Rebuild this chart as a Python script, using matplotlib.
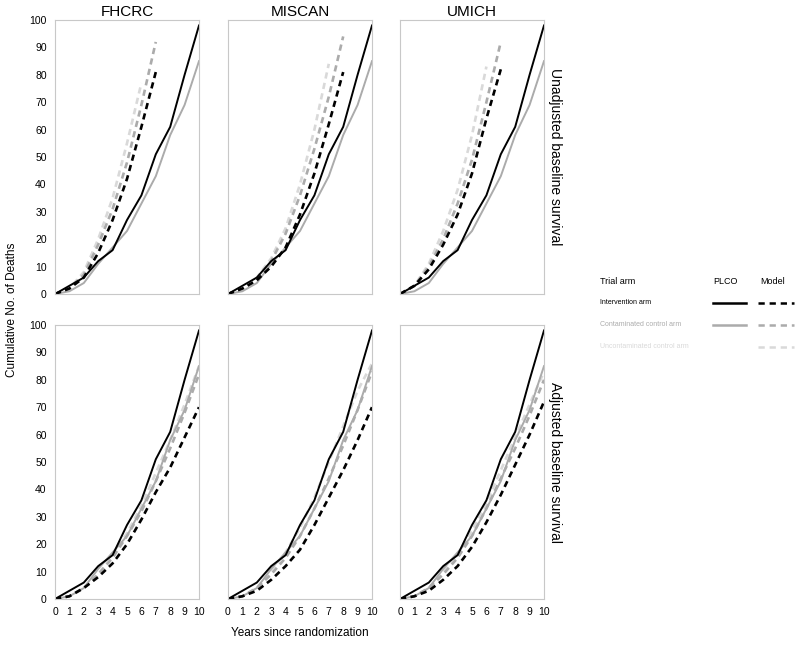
import matplotlib
matplotlib.use("Agg")
import matplotlib.pyplot as plt

plt.rcParams["font.family"] = ["Liberation Sans", "DejaVu Sans"]
plt.rcParams["lines.scale_dashes"] = False

models = ["FHCRC", "MISCAN", "UMICH"]
rows = ["Unadjusted baseline survival", "Adjusted baseline survival"]
years = list(range(11))

# observed PLCO counts (same in every panel)
plco_intervention = [0, 3, 6, 12, 16, 27, 36, 51, 61, 80, 98]
plco_contaminated = [0, 1, 4, 11, 17, 23, 33, 43, 58, 69, 85]

# model projections, unadjusted baseline survival
unadj_intervention = {
    "FHCRC": [0, 2, 6, 15, 27, 42, 61, 81],
    "MISCAN": [0, 2, 5, 10, 17, 29, 44, 62, 81],
    "UMICH": [0, 3, 9, 18, 29, 44, 64, 82],
}
unadj_contaminated = {
    "FHCRC": [0, 2, 7, 18, 31, 48, 69, 92],
    "MISCAN": [0, 2, 5, 12, 22, 36, 53, 72, 94],
    "UMICH": [0, 3, 10, 20, 33, 49, 70, 92],
}
unadj_uncontaminated = {
    "FHCRC": [0, 2, 8, 20, 35, 55, 77],
    "MISCAN": [0, 2, 6, 13, 24, 40, 60, 84],
    "UMICH": [0, 3, 11, 23, 38, 58, 83],
}

# model projections, adjusted baseline survival
adj_intervention = {
    "FHCRC": [0, 1, 4, 8, 13, 20, 29, 39, 48, 59, 70],
    "MISCAN": [0, 1, 3, 7, 12, 18, 27, 37, 47, 58, 70],
    "UMICH": [0, 1, 3, 7, 12, 19, 28, 38, 49, 60, 72],
}
adj_contaminated = {
    "FHCRC": [0, 1, 4, 9, 15, 23, 32, 43, 55, 68, 82],
    "MISCAN": [0, 1, 4, 9, 15, 23, 33, 44, 56, 69, 83],
    "UMICH": [0, 1, 4, 9, 15, 23, 33, 44, 55, 67, 80],
}
adj_uncontaminated = {
    "FHCRC": [0, 1, 4, 9, 16, 24, 34, 46, 58, 71, 85],
    "MISCAN": [0, 1, 4, 10, 17, 26, 37, 50, 63, 76, 86],
    "UMICH": [0, 1, 4, 10, 16, 25, 35, 47, 59, 71, 83],
}

arm_labels = ["Intervention arm", "Contaminated control arm", "Uncontaminated control arm"]
arm_colors = ["#000000", "#ababab", "#d9d9d9"]

W, H = 800, 645
fig = plt.figure(figsize=(8, 6.45), dpi=100)

col_left = [55, 228, 400]
row_top = [20, 325]
pw, ph = 144, 274
dash = (4.5, 3.2)

model_sets = [
    (unadj_intervention, unadj_contaminated, unadj_uncontaminated),
    (adj_intervention, adj_contaminated, adj_uncontaminated),
]

for r, row_name in enumerate(rows):
    for c, model in enumerate(models):
        ax = fig.add_axes([col_left[c] / W, 1 - (row_top[r] + ph) / H, pw / W, ph / H])
        inter, contam, uncontam = model_sets[r]
        ax.plot(years[: len(uncontam[model])], uncontam[model], color=arm_colors[2],
                lw=1.9, dashes=dash)
        ax.plot(years[: len(contam[model])], contam[model], color=arm_colors[1],
                lw=1.9, dashes=dash)
        ax.plot(years, plco_contaminated, color=arm_colors[1], lw=1.4)
        ax.plot(years[: len(inter[model])], inter[model], color=arm_colors[0],
                lw=1.9, dashes=dash)
        ax.plot(years, plco_intervention, color=arm_colors[0], lw=1.4)

        ax.set_xlim(0, 10)
        ax.set_ylim(0, 100)
        ax.set_xticks(years)
        ax.set_yticks(range(0, 101, 10))
        ax.tick_params(length=0, labelsize=7.5, pad=6)
        if c != 0:
            ax.set_yticklabels([])
        if r == 0:
            ax.set_xticklabels([])
            ax.set_title(model, fontsize=11, pad=3)
        for s in ax.spines.values():
            s.set_color("#c8c8c8")
            s.set_linewidth(0.8)
        if c == 2:
            ax.text(1.03, 0.5, row_name, transform=ax.transAxes, rotation=-90,
                    ha="left", va="center", fontsize=10)

fig.text(12 / W, 1 - 310 / H, "Cumulative No. of Deaths", rotation=90,
         ha="center", va="center", fontsize=8.5)
fig.text(300 / W, 1 - 633 / H, "Years since randomization", ha="center",
         va="center", fontsize=8.5)

# legend panel
lax = fig.add_axes([0, 0, 1, 1])
lax.set_xlim(0, W)
lax.set_ylim(H, 0)
lax.axis("off")
lax.text(600, 281, "Trial arm", fontsize=6.5, va="center")
lax.text(713, 281, "PLCO", fontsize=6.5, va="center")
lax.text(760, 281, "Model", fontsize=6.5, va="center")
for i, (label, color) in enumerate(zip(arm_labels, arm_colors)):
    y = 303 + 22 * i
    lax.text(600, y, label, fontsize=5, va="center", color=color)
    if i < 2:
        lax.plot([713, 746], [y, y], color=color, lw=1.8)
    lax.plot([758, 794], [y, y], color=color, lw=1.8, dashes=(4.5, 3.5))

fig.savefig("out.png", dpi=100)
